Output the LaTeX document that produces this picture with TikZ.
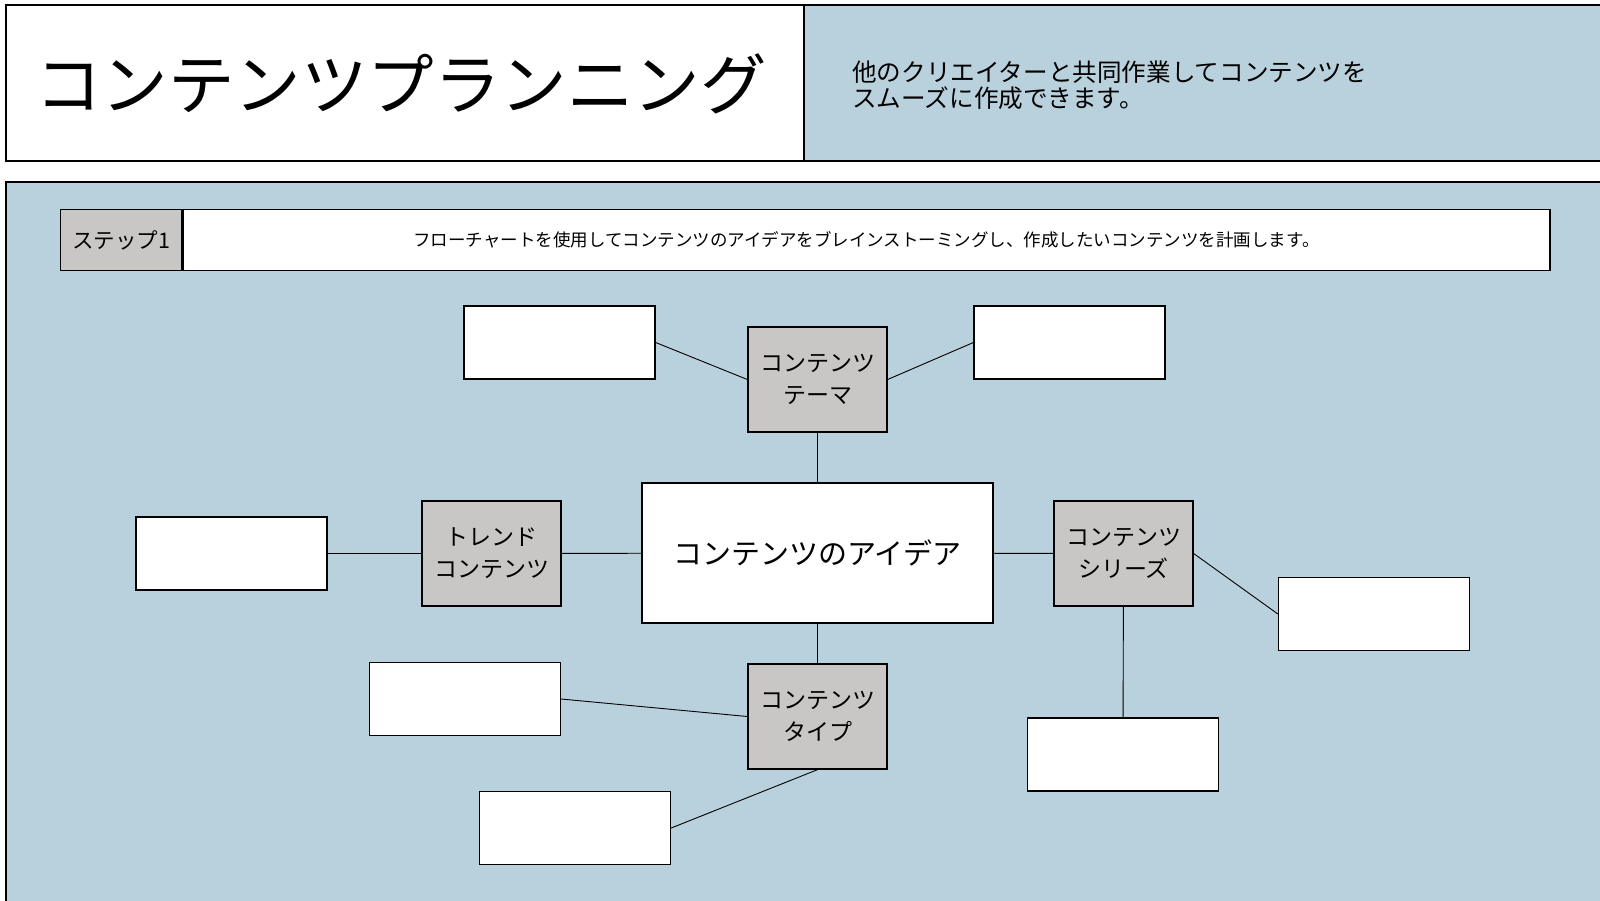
\documentclass[tikz,border=0pt]{standalone}
\usepackage{fontspec}
\newfontfamily\cjk{Noto Sans CJK JP}
\usetikzlibrary{positioning}

\definecolor{panel-blue}{RGB}{185,209,220}
\definecolor{tag-gray}{RGB}{200,199,197}

\begin{document}
\begin{tikzpicture}[x=1pt,y=-1pt]

\tikzset{box/.style={draw, line width=1.3pt, inner sep=0pt},
         topic-box/.style={box, fill=tag-gray, minimum width=139pt, minimum height=105pt,
                           align=center, font=\cjk\fontsize{23}{32}\selectfont},
         blank-box/.style={box, fill=white, minimum width=191pt, minimum height=73pt},
         link/.style={line width=0.9pt}}

\useasboundingbox (0,0) rectangle (1600,900);

\draw[line width=1.3pt, fill=white] (6,5) rectangle (804,161);
\draw[line width=1.3pt, fill=panel-blue] (804,5) rectangle (1603,161);
\draw[line width=1.3pt, fill=panel-blue] (6,182) rectangle (1603,903);

\node[anchor=west, inner sep=0pt, font=\cjk\fontsize{66.5}{70}\selectfont] (title) at (35,84)
  {コンテンツプランニング};
\node[anchor=west, inner sep=0pt, align=left, font=\cjk\fontsize{24.6}{26.5}\selectfont] (intro) at (852,85)
  {他のクリエイターと共同作業してコンテンツを\\スムーズに作成できます。};

\node[box, fill=tag-gray, minimum width=121pt, minimum height=61pt, anchor=north west,
      font=\cjk\fontsize{21.5}{24}\selectfont] (step-tag) at (60,209) {ステップ1};
\node[box, fill=white, minimum width=1367pt, minimum height=61pt, anchor=west,
      font=\cjk\fontsize{17.5}{20}\selectfont] (step-text) at (step-tag.east)
  {フローチャートを使用してコンテンツのアイデアをブレインストーミングし、作成したいコンテンツを計画します。};

\node[box, fill=white, minimum width=351pt, minimum height=140pt,
      font=\cjk\fontsize{29}{32}\selectfont] (idea) at (817.5,553) {コンテンツのアイデア};

\node[topic-box] (theme) at (817.5,379.5) {コンテンツ\\テーマ};
\node[topic-box] (trend) at (491.5,553.5) {トレンド\\コンテンツ};
\node[topic-box] (series) at (1123.5,553.5) {コンテンツ\\シリーズ};
\node[topic-box] (type) at (817.5,716.5) {コンテンツ\\タイプ};

\node[blank-box] (theme-a) at (559.5,342.5) {};
\node[blank-box] (theme-b) at (1069.5,342.5) {};
\node[blank-box] (trend-a) at (231.5,553.5) {};
\node[blank-box] (series-a) at (1374,614) {};
\node[blank-box] (series-b) at (1123,754.5) {};
\node[blank-box] (type-a) at (465,699) {};
\node[blank-box] (type-b) at (575,828) {};

\draw[link] (theme) -- (idea);
\draw[link] (trend) -- (idea);
\draw[link] (series) -- (idea);
\draw[link] (type) -- (idea);

\draw[link] (theme-a.east) -- (theme.west);
\draw[link] (theme.east) -- (theme-b.west);
\draw[link] (trend-a) -- (trend);
\draw[link] (series.east) -- (series-a.west);
\draw[link] (series) -- (series-b);
\draw[link] (type-a.east) -- (type.west);
\draw[link] (type.south) -- (type-b.east);

\end{tikzpicture}
\end{document}
